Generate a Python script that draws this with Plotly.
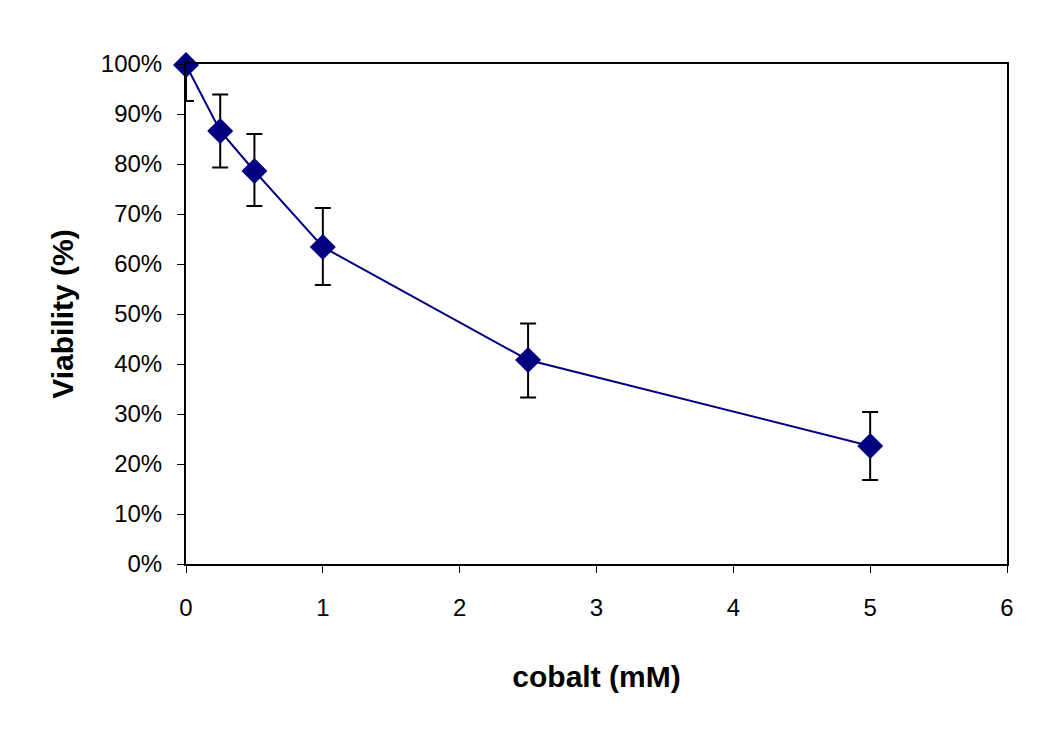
import plotly.graph_objects as go

cobalt_mM = [0, 0.25, 0.5, 1, 2.5, 5]
viability_pct = [99.8, 86.6, 78.6, 63.4, 40.8, 23.6]
err_plus = [0, 7.3, 7.4, 7.8, 7.3, 6.8]
err_minus = [7.2, 7.3, 7.0, 7.6, 7.5, 6.8]
y_ticks = list(range(0, 101, 10))
y_tick_labels = [f"{v}%" for v in y_ticks]

fig = go.Figure()
fig.add_trace(go.Scatter(
    x=cobalt_mM, y=viability_pct, mode="lines+markers",
    line=dict(color="#000080", width=2),
    marker=dict(symbol="diamond", size=20, color="#000080"),
    error_y=dict(type="data", symmetric=False, array=err_plus, arrayminus=err_minus,
                 color="black", thickness=2, width=8),
    cliponaxis=False,
))
fig.update_layout(
    width=1050, height=750,
    margin=dict(l=178, r=51, t=56, b=194),
    paper_bgcolor="white", plot_bgcolor="white",
    font=dict(family="Liberation Sans, Arial", color="black", size=20),
    showlegend=False,
    xaxis=dict(range=[0, 6], tickvals=[0, 1, 2, 3, 4, 5, 6], showgrid=False, zeroline=False,
               showline=True, linecolor="black", linewidth=2, mirror=True,
               ticks="outside", ticklen=7, tickcolor="black", tickwidth=1,
               tickfont=dict(size=24), ticklabelstandoff=14,
               title=dict(text="<b>cobalt (mM)</b>", font=dict(size=30), standoff=46)),
    yaxis=dict(range=[0, 100], tickvals=y_ticks, ticktext=y_tick_labels, showgrid=False,
               zeroline=False, showline=True, linecolor="black", linewidth=2, mirror=True,
               ticks="outside", ticklen=7, tickcolor="black", tickwidth=1,
               tickfont=dict(size=24), ticklabelstandoff=10,
               title=dict(text="<b>Viability (%)</b>", font=dict(size=30), standoff=18)),
)
fig.write_html("out.html")
